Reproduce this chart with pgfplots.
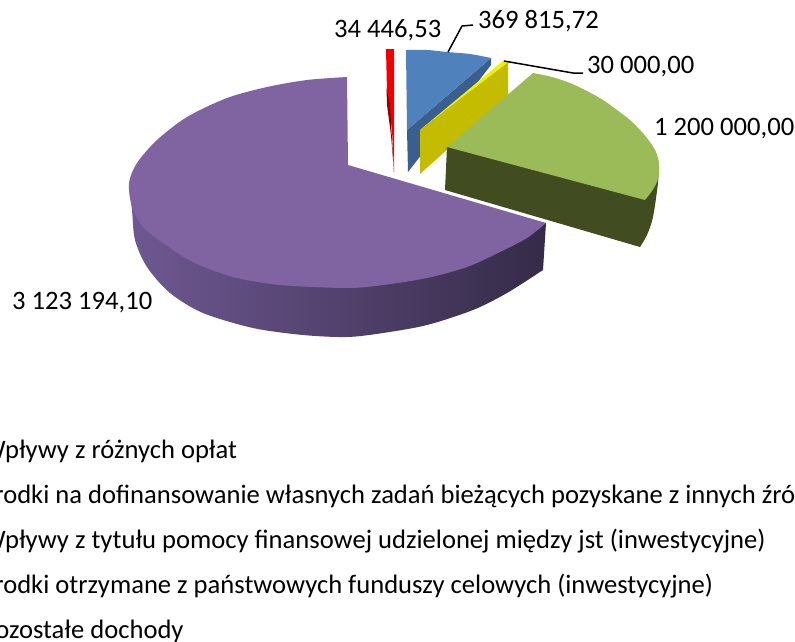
\documentclass[border=0pt]{standalone}
\usepackage{pgfplots}
\pgfplotsset{compat=1.18}
\usepackage{fontspec}
\setmainfont{Carlito}
\definecolor{pTop}{HTML}{8064A2}
\definecolor{pL}{HTML}{6F5892}
\definecolor{pM}{HTML}{4B3C62}
\definecolor{pR}{HTML}{352B48}
\definecolor{gTop}{HTML}{9BBB59}
\definecolor{gSide}{HTML}{414D20}
\definecolor{bTop}{HTML}{4F81BD}
\definecolor{bSide}{HTML}{3A5F8E}
\definecolor{yTop}{HTML}{F2F200}
\definecolor{ySide}{HTML}{C4BC00}
\definecolor{rTop}{HTML}{F00000}
\definecolor{rSide}{HTML}{8E0000}
\begin{document}
\begin{tikzpicture}
\clip (0,0) rectangle (795pt,641pt);
\begin{axis}[at={(0,0)},anchor=south west,scale only axis,width=795pt,height=641pt,
  xmin=0,xmax=795,ymin=0,ymax=641,y dir=reverse,hide axis,clip=false,
  every axis plot/.append style={draw=none,line width=0pt},
  nodes={inner sep=0pt,font=\fontsize{26.6}{32}\selectfont,anchor=base west}]
% red
\addplot[fill=rTop] coordinates {(386,49)(394,49)(394,172)(392,130)(387,92)} -- cycle;
\addplot[fill=rSide] coordinates {(386.5,88)(390,105)(394,172)(391,135)(387,105)} -- cycle;
% blue
\addplot[fill=bSide] coordinates {(407,130)(491,58)(491,65)(408,172)} -- cycle;
\addplot[fill=bTop,smooth] coordinates {(406,50)(427,50)(447,52)(470,54)(491,58)} -- (axis cs:407,130) -- cycle;
% yellow
\addplot[fill=ySide] coordinates {(420,130)(508,62)(508,95)(420,174)} -- cycle;
\addplot[fill=yTop] coordinates {(420,130)(504,60)(508,62)} -- cycle;
% green
\addplot[fill=gSide,smooth] coordinates {(659,163)(658,183)(653,217)(647,235)(640,247)} -- (axis cs:445,190) -- (axis cs:447,147) -- cycle;
\addplot[fill=gTop,smooth] coordinates {(533,73)(552,77)(570,83)(587,91)(603,100)(617,110)(630,120)(641,131)(650,142)(656,152)(659,163)(659,174)(657,182)(652,191)(645,200)} -- (axis cs:447,147) -- cycle;
% purple
\addplot[left color=pL,middle color=pM,right color=pR,smooth] coordinates {(129,183)(132,210)(135,240)(147,267)(170,293)(203,313)(253,328)(303,335)(347,337)(383,333)(427,325)(473,310)(507,293)(543,270)} -- (axis cs:546,223) -- (axis cs:349,200) -- cycle;
\addplot[fill=pTop,smooth] coordinates {(347,77)(307,80)(267,87)(227,98)(187,117)(157,140)(137,163)(129,183)(132,207)(143,227)(163,243)(193,262)(233,277)(280,285)(347,288)(383,285)(427,278)(467,267)(500,252)(527,238)(546,223)} -- (axis cs:348,165) -- cycle;
% leader lines
\addplot[draw=black,line width=1.5pt] coordinates {(448,52)(462,26)(473,25)};
\addplot[draw=black,line width=1.5pt] coordinates {(504,61)(573,73)(583,73)};
% labels
\node at (axis cs:334,37) {34 446,53};
\node at (axis cs:478,28) {369 815,72};
\node at (axis cs:587,73) {30 000,00};
\node at (axis cs:654,135) {1 200 000,00};
\node at (axis cs:12,309) {3 123 194,10};
% legend
\node at (axis cs:-18,458) {Wpływy z różnych opłat};
\node at (axis cs:-18,503) {Środki na dofinansowanie własnych zadań bieżących pozyskane z innych źródeł};
\node at (axis cs:-18,548) {Wpływy z tytułu pomocy finansowej udzielonej między jst (inwestycyjne)};
\node at (axis cs:-18,593) {Środki otrzymane z państwowych funduszy celowych (inwestycyjne)};
\node at (axis cs:-18,638) {Pozostałe dochody};
\end{axis}
\end{tikzpicture}
\end{document}
